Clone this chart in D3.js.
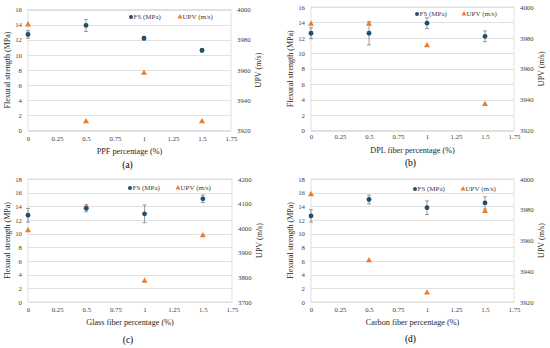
<!DOCTYPE html>
<html><head><meta charset="utf-8">
<script src="https://cdn.jsdelivr.net/npm/d3@7"></script>
<style>body{margin:0;background:#fff}svg{display:block}</style>
</head><body>
<svg id="c" width="550" height="348"></svg>
<script>
// ---- data ----
const xVals = [0, 0.5, 1, 1.5];
const xTicks = [0, 0.25, 0.5, 0.75, 1, 1.25, 1.5, 1.75];
const xTickLabels = ["0", "0.25", "0.5", "0.75", "1", "1.25", "1.5", "1.75"];

const fsA = [12.7, 13.9, 12.2, 10.6];
const fsErrA = [0.5, 0.8, 0.25, 0.25];
const upvA = [3990, 3926, 3958, 3926];

const fsB = [12.6, 12.6, 13.9, 12.2];
const fsErrB = [0.7, 1.5, 0.7, 0.7];
const upvB = [3989, 3989, 3975, 3937];

const fsC = [12.7, 13.7, 12.9, 15.1];
const fsErrC = [1.0, 0.5, 1.3, 0.55];
const upvC = [3991, 4087, 3785, 3970];

const fsD = [12.6, 15.0, 13.8, 14.5];
const fsErrD = [0.9, 0.65, 1.0, 0.9];
const upvD = [3990, 3947, 3926, 3979];

const leftTicks16 = [0, 2, 4, 6, 8, 10, 12, 14, 16];
const leftTicks18 = [0, 2, 4, 6, 8, 10, 12, 14, 16, 18];
const rightTicks3920 = [3920, 3940, 3960, 3980, 4000];
const rightTicks3700 = [3700, 3800, 3900, 4000, 4100, 4200];

const xTitles = ["PPF percentage (%)", "DPL fiber percentage (%)", "Glass fiber percentage (%)", "Carbon fiber percentage (%)"];
const captions = ["(a)", "(b)", "(c)", "(d)"];
const legendLabels = ["FS (MPa)", "UPV (m/s)"];
const yTitleLeft = "Flexural strength (MPa)";
const yTitleRight = "UPV (m/s)";

// ---- layout ----
const panels = [
  {fs: fsA, err: fsErrA, upv: upvA, lt: leftTicks16, rt: rightTicks3920, x0: 28, x1: 231, y0: 9.5, y1: 130.5, leg: [131, 180], legY: 17, tickY: 140, titleY: 151, capY: 164},
  {fs: fsB, err: fsErrB, upv: upvB, lt: leftTicks16, rt: rightTicks3920, x0: 311, x1: 514, y0: 7, y1: 130.5, leg: [417, 464], legY: 14, tickY: 138, titleY: 150, capY: 162},
  {fs: fsC, err: fsErrC, upv: upvC, lt: leftTicks18, rt: rightTicks3700, x0: 28, x1: 232, y0: 179, y1: 302, leg: [130, 178], legY: 188, tickY: 311, titleY: 322, capY: 339},
  {fs: fsD, err: fsErrD, upv: upvD, lt: leftTicks18, rt: rightTicks3920, x0: 311, x1: 514, y0: 179, y1: 302, leg: [415, 463], legY: 189, tickY: 311, titleY: 322, capY: 338}
];

const FS_COLOR = "#1f4e6e";
const UPV_COLOR = "#ed7d31";
const GRID = "#d9d9d9";
const FONT = "'Liberation Serif', 'Times New Roman', serif";

const svg = d3.select("#c");
const tri = d3.symbol().type(d3.symbolTriangle).size(16);

panels.forEach((p, i) => {
  const g = svg.append("g");
  const x = d3.scaleLinear().domain([0, 1.75]).range([p.x0, p.x1]);
  const yl = d3.scaleLinear().domain([p.lt[0], p.lt[p.lt.length - 1]]).range([p.y1, p.y0]);
  const yr = d3.scaleLinear().domain([p.rt[0], p.rt[p.rt.length - 1]]).range([p.y1, p.y0]);

  // gridlines
  g.selectAll(".grid").data(p.lt).join("line")
    .attr("x1", p.x0).attr("x2", p.x1)
    .attr("y1", d => Math.round(yl(d)) + 0.5).attr("y2", d => Math.round(yl(d)) + 0.5)
    .attr("stroke", GRID).attr("stroke-width", 0.8);
  // border
  g.append("rect").attr("x", p.x0).attr("y", yl(p.lt[p.lt.length - 1]))
    .attr("width", p.x1 - p.x0).attr("height", p.y1 - yl(p.lt[p.lt.length - 1]))
    .attr("fill", "none").attr("stroke", GRID).attr("stroke-width", 0.8);

  // axes (labels only)
  const axL = g.append("g").attr("transform", `translate(${p.x0 - 3},0)`)
    .call(d3.axisLeft(yl).tickValues(p.lt).tickSize(0).tickPadding(3));
  const axR = g.append("g").attr("transform", `translate(${p.x1 + 3},0)`)
    .call(d3.axisRight(yr).tickValues(p.rt).tickSize(0).tickPadding(3).tickFormat(d3.format("d")));
  const axB = g.append("g").attr("transform", `translate(0,${p.tickY - 4})`)
    .call(d3.axisBottom(x).tickValues(xTicks).tickSize(0).tickPadding(0).tickFormat((d, k) => xTickLabels[k]));
  [axL, axR, axB].forEach(a => {
    a.select(".domain").remove();
    a.selectAll("text").attr("font-family", FONT).attr("font-size", 6.8).attr("fill", "#404040");
  });

  // titles
  g.append("text").attr("x", (p.x0 + p.x1) / 2).attr("y", p.titleY + 3)
    .attr("text-anchor", "middle").attr("font-family", FONT).attr("font-size", 8.2).attr("fill", "#262626")
    .text(xTitles[i]);
  g.append("text").attr("x", (p.x0 + p.x1) / 2 - 2).attr("y", p.capY + 3.5)
    .attr("text-anchor", "middle").attr("font-family", FONT).attr("font-size", 9.5).attr("fill", "#000")
    .text(captions[i]);
  const ym = (p.y0 + p.y1) / 2;
  g.append("text").attr("transform", `translate(${p.x0 - 18},${ym}) rotate(-90)`)
    .attr("text-anchor", "middle").attr("font-family", FONT).attr("font-size", 8).attr("fill", "#262626")
    .text(yTitleLeft);
  g.append("text").attr("transform", `translate(${p.x1 + 30},${ym}) rotate(-90)`)
    .attr("text-anchor", "middle").attr("font-family", FONT).attr("font-size", 8).attr("fill", "#262626")
    .text(yTitleRight);

  // error bars
  const eb = g.selectAll(".eb").data(xVals).join("g");
  eb.append("line").attr("x1", d => x(d)).attr("x2", d => x(d))
    .attr("y1", (d, k) => yl(p.fs[k] - p.err[k])).attr("y2", (d, k) => yl(p.fs[k] + p.err[k]))
    .attr("stroke", "#707070").attr("stroke-width", 0.7);
  [-1, 1].forEach(s => {
    eb.append("line").attr("x1", d => x(d) - 2).attr("x2", d => x(d) + 2)
      .attr("y1", (d, k) => yl(p.fs[k] + s * p.err[k])).attr("y2", (d, k) => yl(p.fs[k] + s * p.err[k]))
      .attr("stroke", "#707070").attr("stroke-width", 0.7);
  });

  // UPV triangles
  g.selectAll(".upv").data(xVals).join("path")
    .attr("d", tri).attr("transform", (d, k) => `translate(${x(d)},${yr(p.upv[k])})`)
    .attr("fill", UPV_COLOR);
  // FS circles
  g.selectAll(".fs").data(xVals).join("circle")
    .attr("cx", d => x(d)).attr("cy", (d, k) => yl(p.fs[k])).attr("r", 2.4)
    .attr("fill", FS_COLOR);

  // legend
  g.append("circle").attr("cx", p.leg[0]).attr("cy", p.legY).attr("r", 2).attr("fill", FS_COLOR);
  g.append("text").attr("x", p.leg[0] + 2.5).attr("y", p.legY + 2.4)
    .attr("font-family", FONT).attr("font-size", 7).attr("fill", "#404040").text(legendLabels[0]);
  g.append("path").attr("d", d3.symbol().type(d3.symbolTriangle).size(11))
    .attr("transform", `translate(${p.leg[1]},${p.legY})`).attr("fill", UPV_COLOR);
  g.append("text").attr("x", p.leg[1] + 2.5).attr("y", p.legY + 2.4)
    .attr("font-family", FONT).attr("font-size", 7).attr("fill", "#404040").text(legendLabels[1]);
});
</script>
</body></html>
